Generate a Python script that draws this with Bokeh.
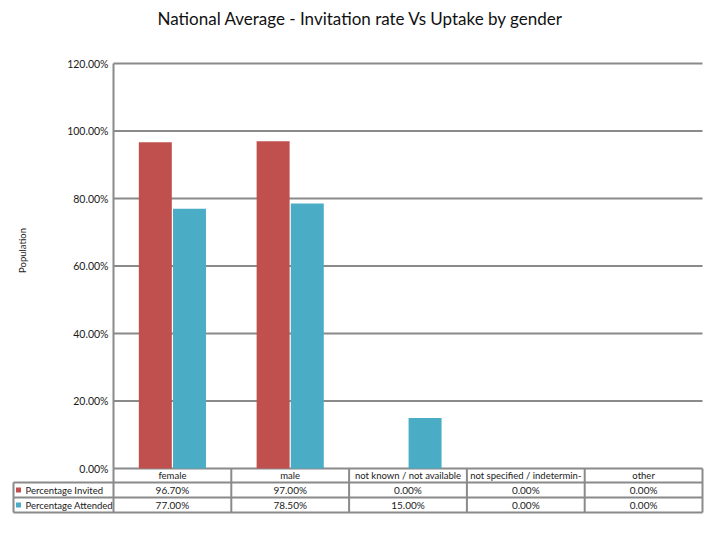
import math
from bokeh.plotting import figure
from bokeh.models import Range1d
from bokeh.core.properties import value
from bokeh.embed import file_html
from bokeh.resources import INLINE

# data
categories = ["female", "male", "not known / not available",
              "not specified / indetermin-", "other"]
invited = [96.7, 97.0, 0.0, 0.0, 0.0]
attended = [77.0, 78.5, 15.0, 0.0, 0.0]
series = ["Percentage Invited", "Percentage Attended"]
colors = ["#C0504D", "#4BACC6"]
y_ticks = [0, 20, 40, 60, 80, 100, 120]
title = "National Average - Invitation rate Vs Uptake by gender"
y_label = "Population"

FONT = value("Lato")
GRID = "#8a8a8a"
TXT = "#1a1a1a"

# page geometry (figure pixels)
W, H = 704, 524
X0, X1 = 113, 702      # left / right edge of the category area
Y0, Y1 = 468, 63       # pixel rows of 0% and 120%
n = len(categories)
ppx = (X1 - X0) / n
ppy = (Y0 - Y1) / 120.0


def dx(px):
    return px / ppx


def dy(px):
    return px / ppy


p = figure(width=W, height=H, output_backend="svg", toolbar_location=None,
           x_range=Range1d(-X0 / ppx, (W - X0) / ppx),
           y_range=Range1d(-(H - Y0) / ppy, Y0 / ppy),
           x_axis_location=None, y_axis_location=None,
           min_border=0, outline_line_color=None)
p.grid.visible = False

# gridlines and axis line
p.segment(x0=[0] * len(y_ticks), y0=y_ticks, x1=[n] * len(y_ticks), y1=y_ticks,
          line_color=GRID, line_width=2)
p.segment(x0=[0], y0=[0], x1=[0], y1=[max(y_ticks)], line_color=GRID, line_width=2)
p.text(x=[-dx(5)] * len(y_ticks), y=y_ticks,
       text=[f"{v:.2f}%" for v in y_ticks],
       text_align="right", text_baseline="middle",
       text_font=FONT, text_font_size="10.5px", text_color=TXT)

# bars
xs = [i + 0.5 for i in range(n)]
bw = 0.28
off = 0.145
p.vbar(x=[x - off for x in xs], top=invited, bottom=0, width=bw,
       fill_color=colors[0], line_color=None)
p.vbar(x=[x + off for x in xs], top=attended, bottom=0, width=bw,
       fill_color=colors[1], line_color=None)

# data table under the chart
row_h = [14, 29, 44]
leg_w = 100
p.segment(x0=[-dx(leg_w)] * 3, y0=[-dy(r) for r in row_h],
          x1=[n] * 3, y1=[-dy(r) for r in row_h], line_color=GRID, line_width=2)
p.segment(x0=list(range(n + 1)), y0=[0] * (n + 1),
          x1=list(range(n + 1)), y1=[-dy(row_h[-1])] * (n + 1),
          line_color=GRID, line_width=2)
p.segment(x0=[-dx(leg_w)], y0=[-dy(row_h[0])], x1=[-dx(leg_w)], y1=[-dy(row_h[-1])],
          line_color=GRID, line_width=2)

p.text(x=xs, y=[-dy(7)] * n, text=categories, text_align="center",
       text_baseline="middle", text_font=FONT, text_font_size="9.5px", text_color=TXT)
for k, vals in enumerate([invited, attended]):
    yy = -dy((row_h[k] + row_h[k + 1]) / 2)
    p.text(x=xs, y=[yy] * n, text=[f"{v:.2f}%" for v in vals], text_align="center",
           text_baseline="middle", text_font=FONT, text_font_size="10px", text_color=TXT)
    p.scatter(x=[-dx(leg_w - 5)], y=[yy], marker="square", size=5,
              fill_color=colors[k], line_color=None)
    p.text(x=[-dx(leg_w - 12)], y=[yy], text=[series[k]], text_align="left",
           text_baseline="middle", text_font=FONT, text_font_size="9.5px", text_color=TXT)

# axis title and chart title
p.text(x=[-dx(91)], y=[dy(218)], text=[y_label], angle=math.pi / 2,
       text_align="center", text_baseline="middle",
       text_font=FONT, text_font_size="9.5px", text_color=TXT)
p.text(x=[dx(247)], y=[dy(450)], text=[title], text_align="center",
       text_baseline="middle", text_font=FONT, text_font_size="17px", text_color="#111111")

open("out.html", "w").write(file_html(p, INLINE))
